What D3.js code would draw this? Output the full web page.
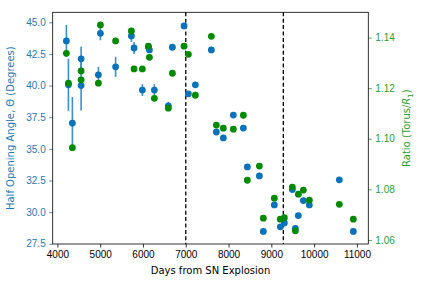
<!DOCTYPE html>
<html lang="en">
<head>
<meta charset="UTF-8">
<title>Opening angle vs days</title>
<script src="https://d3js.org/d3.v7.min.js"></script>
<style>
    body { margin: 0; background: #fff; }
    svg { display: block; font-family: "DejaVu Sans", sans-serif; }
    .tick text { font-size: 10px; }
</style>
</head>
<body>
<script>
    // days after explosion for each epoch
    const days = [4210, 4257, 4350, 4554, 4554, 4958, 5005, 5360, 5729, 5792, 5986, 6126, 6150,
        6266, 6593, 6687, 6960, 7061, 7224, 7598, 7715, 7878, 8112, 8346, 8439, 8720, 8813,
        9070, 9210, 9304, 9491, 9561, 9631, 9748, 9888, 10589, 10916];
    // half opening angle (degrees) and its error
    const angle = [43.53, 40.06, 37.04, 42.11, 40.00, 40.85, 44.13, 41.48, 43.92, 42.97, 39.64, 43.05, 42.82,
        39.64, 38.40, 43.03, 44.71, 39.35, 40.06, 42.82, 36.33, 35.86, 37.67, 36.64, 33.57, 32.86, 28.47,
        30.57, 28.84, 29.14, 31.78, 28.71, 29.73, 30.91, 30.57, 32.55, 28.47];
    const angleErr = [1.26, 2.05, 2.05, 0.95, 1.97, 0.63, 0.55, 0.79, 0.47, 0.47, 0.47, 0.1, 0.1,
        0.47, 0.32, 0.1, 0.25, 0.1, 0.1, 0.1, 0.1, 0.1, 0.1, 0.1, 0.1, 0.1, 0.1,
        0.1, 0.1, 0.1, 0.1, 0.1, 0.1, 0.1, 0.1, 0.1, 0.1];
    // torus / R1 ratio
    const ratio = [1.1338, 1.1220, 1.0965, 1.1268, 1.1233, 1.1220, 1.1450, 1.1387, 1.1426, 1.1276, 1.1276, 1.1366, 1.1322,
        1.1160, 1.1121, 1.1259, 1.1366, 1.1334, 1.1172, 1.1405, 1.1054, 1.1042, 1.1038, 1.1093, 1.0836, 1.0892, 1.0686,
        1.0765, 1.0682, 1.0688, 1.0809, 1.0636, 1.0781, 1.0797, 1.0757, 1.0741, 1.0682];
    const markerDays = [7000, 9280];

    const xTicks = [4000, 5000, 6000, 7000, 8000, 9000, 10000, 11000];
    const leftTicks = [27.5, 30, 32.5, 35, 37.5, 40, 42.5, 45];
    const rightTicks = [1.06, 1.08, 1.10, 1.12, 1.14];

    const width = 427, height = 287;
    const margin = { top: 12.3, right: 58.7, bottom: 43, left: 52.7 };
    const w = width - margin.left - margin.right;
    const h = height - margin.top - margin.bottom;

    const blue = "#0a72ba", blueLabel = "#1f77b4", errColor = "#3b8fd0";
    const green = "#008a00", greenLabel = "#2ca02c";

    const svg = d3.select("body").append("svg")
        .attr("width", width)
        .attr("height", height);
    const g = svg.append("g")
        .attr("transform", `translate(${margin.left},${margin.top})`);

    const x = d3.scaleLinear().domain([3890, 11266]).range([0, w]);
    const yL = d3.scaleLinear().domain([27.48, 45.79]).range([h, 0]);
    const yR = d3.scaleLinear().domain([1.0584, 1.1500]).range([h, 0]);

    // axes
    const xAxis = g.append("g")
        .attr("transform", `translate(0,${h})`)
        .call(d3.axisBottom(x).tickValues(xTicks).tickFormat(d3.format("d")).tickSizeOuter(0).tickSize(3.5).tickPadding(3.5));
    const lAxis = g.append("g")
        .call(d3.axisLeft(yL).tickValues(leftTicks).tickFormat(d3.format(".1f")).tickSizeOuter(0).tickSize(3.5).tickPadding(3.5));
    const rAxis = g.append("g")
        .attr("transform", `translate(${w},0)`)
        .call(d3.axisRight(yR).tickValues(rightTicks).tickFormat(d3.format(".2f")).tickSizeOuter(0).tickSize(3.5).tickPadding(3.5));

    [xAxis, lAxis, rAxis].forEach(a => a.select(".domain").remove());
    xAxis.selectAll(".tick line").attr("stroke", "#000").attr("stroke-width", 0.8);
    xAxis.selectAll(".tick text").attr("fill", "#000");
    lAxis.selectAll(".tick line").attr("stroke", blueLabel).attr("stroke-width", 0.8);
    lAxis.selectAll(".tick text").attr("fill", blueLabel);
    rAxis.selectAll(".tick line").attr("stroke", greenLabel).attr("stroke-width", 0.8);
    rAxis.selectAll(".tick text").attr("fill", greenLabel);

    // frame
    g.append("rect")
        .attr("width", w).attr("height", h)
        .attr("fill", "none").attr("stroke", "#000").attr("stroke-width", 0.8);

    // vertical dashed markers
    g.selectAll(".vline")
        .data(markerDays)
        .enter().append("line")
        .attr("x1", d => x(d)).attr("x2", d => x(d))
        .attr("y1", 0).attr("y2", h)
        .attr("stroke", "#000").attr("stroke-width", 1.3)
        .attr("stroke-dasharray", "4,2.4");

    const rows = days.map((d, i) => ({ day: d, a: angle[i], e: angleErr[i], r: ratio[i] }));

    // error bars
    g.selectAll(".err")
        .data(rows)
        .enter().append("line")
        .attr("x1", d => x(d.day)).attr("x2", d => x(d.day))
        .attr("y1", d => yL(d.a - d.e)).attr("y2", d => yL(d.a + d.e))
        .attr("stroke", errColor).attr("stroke-width", 1.6);

    // angle points
    g.selectAll(".bdot")
        .data(rows)
        .enter().append("circle")
        .attr("cx", d => x(d.day)).attr("cy", d => yL(d.a))
        .attr("r", 3.4).attr("fill", blue);

    // ratio points
    g.selectAll(".gdot")
        .data(rows)
        .enter().append("circle")
        .attr("cx", d => x(d.day)).attr("cy", d => yR(d.r))
        .attr("r", 3.4).attr("fill", green);

    // axis titles
    svg.append("text")
        .attr("x", margin.left + w / 2).attr("y", 274)
        .attr("text-anchor", "middle").attr("font-size", 10)
        .text("Days from SN Explosion");

    svg.append("text")
        .attr("transform", `translate(14,${margin.top + h / 2}) rotate(-90)`)
        .attr("text-anchor", "middle").attr("font-size", 10).attr("fill", blueLabel)
        .text("Half Opening Angle, Θ (Degrees)");

    const rt = svg.append("text")
        .attr("transform", `translate(410,${margin.top + h / 2}) rotate(-90)`)
        .attr("text-anchor", "middle").attr("font-size", 10).attr("fill", greenLabel);
    rt.append("tspan").text("Ratio (Torus/");
    rt.append("tspan").attr("font-style", "italic").text("R");
    rt.append("tspan").attr("font-size", 7).attr("dy", 2.5).text("1");
    rt.append("tspan").attr("dy", -2.5).text(")");
</script>
</body>
</html>
